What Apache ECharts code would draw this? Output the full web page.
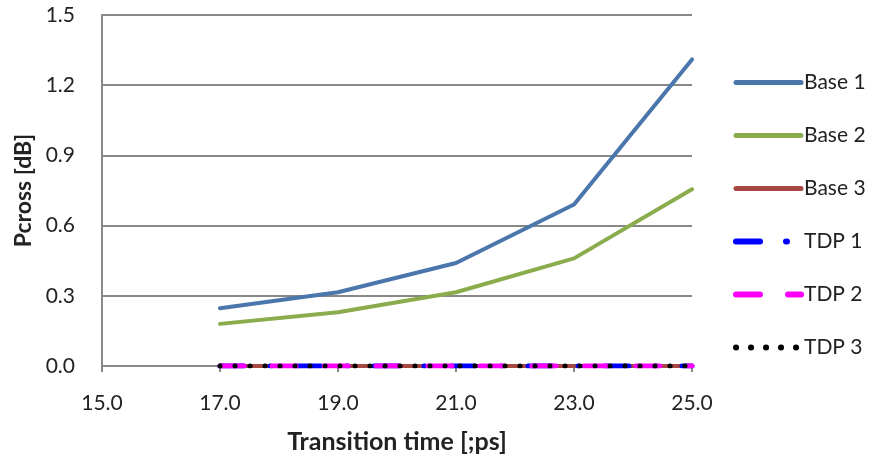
<!DOCTYPE html>
<html><head><meta charset="utf-8">
<script src="https://cdn.jsdelivr.net/npm/echarts@6/dist/echarts.min.js"></script>
<style>html,body{margin:0;padding:0;background:#fff}#c{width:881px;height:459px}</style>
</head><body><div id="c"></div>
<script>
const xValues = [17, 19, 21, 23, 25];
const base1 = [0.247, 0.315, 0.44, 0.69, 1.31];
const base2 = [0.18, 0.23, 0.315, 0.46, 0.755];
const base3 = [0, 0, 0, 0, 0];
const tdp1 = [0, 0, 0, 0, 0];
const tdp2 = [0, 0, 0, 0, 0];
const tdp3 = [0, 0, 0, 0, 0];
const seriesNames = ['Base 1', 'Base 2', 'Base 3', 'TDP 1', 'TDP 2', 'TDP 3'];
const xTitle = 'Transition time [;ps]';
const yTitle = 'Pcross [dB]';

const FONT = 'Lato, "Open Sans", sans-serif';
const pair = arr => xValues.map((x, i) => [x, arr[i]]);
const styles = [
  {color: '#4a76ac', width: 4, type: 'solid', cap: 'round'},
  {color: '#8aac4c', width: 4, type: 'solid', cap: 'round'},
  {color: '#a84843', width: 4, type: 'solid', cap: 'round'},
  {color: '#0000ff', width: 5, type: [24, 26, 1, 26], cap: 'round'},
  {color: '#ff00ff', width: 5, type: [24, 28], cap: 'round'},
  {color: '#000000', width: 5, type: [0.1, 14.9], cap: 'round'}
];
const data = [base1, base2, base3, tdp1, tdp2, tdp3];

const chart = echarts.init(document.getElementById('c'), null, {renderer: 'canvas'});
chart.setOption({
  animation: false,
  textStyle: {fontFamily: FONT},
  grid: {left: 102, right: 189, top: 15, bottom: 92, containLabel: false},
  legend: {
    orient: 'vertical', left: 728, top: 67, itemGap: 32, itemWidth: 65, itemHeight: 14,
    textStyle: {fontFamily: FONT, fontSize: 21, lineHeight: 21, color: '#222', padding: [0, 0, 0, -2]},
    itemStyle: {opacity: 0},
    data: seriesNames.map((n, i) => ({
      name: n,
      itemStyle: {opacity: 0},
      lineStyle: {color: styles[i].color, width: styles[i].width + 1, type: styles[i].type, cap: styles[i].cap, opacity: 1}
    }))
  },
  xAxis: {
    type: 'value', min: 15, max: 25, interval: 2,
    name: xTitle, nameLocation: 'middle', nameGap: 63,
    nameTextStyle: {fontFamily: FONT, fontSize: 25, fontWeight: 'bold', color: '#222'},
    axisLine: {show: true, lineStyle: {color: '#888', width: 2}},
    axisTick: {show: true, length: 6, lineStyle: {color: '#888', width: 2}},
    axisLabel: {fontSize: 21, color: '#222', margin: 27, formatter: v => v.toFixed(1)},
    splitLine: {show: false}
  },
  yAxis: {
    type: 'value', min: 0, max: 1.5, interval: 0.3,
    name: yTitle, nameLocation: 'middle', nameGap: 60, nameRotate: 90,
    nameTextStyle: {fontFamily: FONT, fontSize: 23, fontWeight: 'bold', color: '#222'},
    axisLine: {show: true, lineStyle: {color: '#888', width: 2}},
    axisTick: {show: true, length: 6, inside: true, lineStyle: {color: '#888', width: 2}},
    axisLabel: {fontSize: 21, color: '#222', margin: 27, formatter: v => v.toFixed(1)},
    splitLine: {show: true, lineStyle: {color: '#888', width: 2}}
  },
  series: seriesNames.map((n, i) => ({
    name: n, type: 'line', data: pair(data[i]), symbol: 'none', showSymbol: false,
    itemStyle: {color: styles[i].color},
    lineStyle: {color: styles[i].color, width: styles[i].width, type: styles[i].type, cap: styles[i].cap}
  }))
});
</script></body></html>
